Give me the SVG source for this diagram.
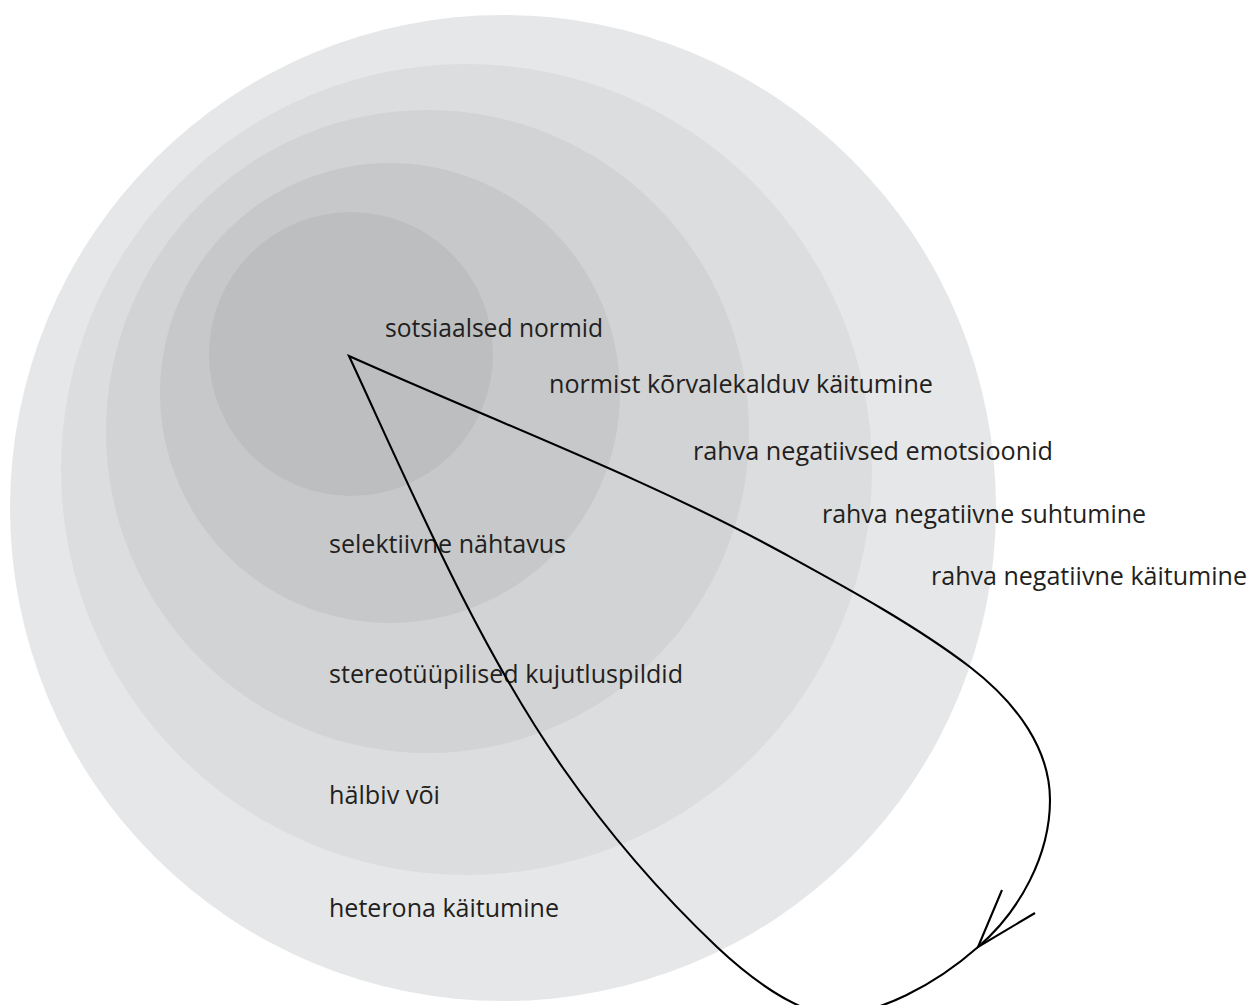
<svg xmlns="http://www.w3.org/2000/svg" width="1251" height="1005" viewBox="0 0 1251 1005">
<style>
.lbl{font-family:"Open Sans","Noto Sans","Liberation Sans",sans-serif;font-size:25px;fill:#231f20}
.conn{fill:none;stroke:#000;stroke-width:2.1;stroke-linejoin:miter}
</style>
<rect width="1251" height="1005" fill="#ffffff"/>
<g id="ring1"><circle cx="503" cy="508" r="493" fill="#e6e7e8"/></g>
<g id="ring2"><circle cx="466.5" cy="469.5" r="405.5" fill="#dcddde"/></g>
<g id="ring3"><circle cx="427.5" cy="431.5" r="321.5" fill="#d1d3d4"/></g>
<g id="ring4"><circle cx="390" cy="393" r="230" fill="#c7c8ca"/></g>
<g id="ring5"><circle cx="351" cy="354" r="142" fill="#bcbec0"/></g>
<g id="labels">
<g id="n1"><text class="lbl" x="385" y="337" textLength="218" lengthAdjust="spacingAndGlyphs">sotsiaalsed normid</text></g>
<g id="n2"><text class="lbl" x="549" y="393" textLength="384" lengthAdjust="spacingAndGlyphs">normist kõrvalekalduv käitumine</text></g>
<g id="n3"><text class="lbl" x="693" y="460" textLength="360" lengthAdjust="spacingAndGlyphs">rahva negatiivsed emotsioonid</text></g>
<g id="n4"><text class="lbl" x="822" y="523" textLength="324" lengthAdjust="spacingAndGlyphs">rahva negatiivne suhtumine</text></g>
<g id="n5"><text class="lbl" x="931" y="585" textLength="316" lengthAdjust="spacingAndGlyphs">rahva negatiivne käitumine</text></g>
<g id="n6"><text class="lbl" x="329" y="553" textLength="237" lengthAdjust="spacingAndGlyphs">selektiivne nähtavus</text></g>
<g id="n7"><text class="lbl" x="329" y="683" textLength="354" lengthAdjust="spacingAndGlyphs">stereotüüpilised kujutluspildid</text></g>
<g id="n8"><text class="lbl" x="329" y="804" textLength="111" lengthAdjust="spacingAndGlyphs">hälbiv või</text></g>
<g id="n9"><text class="lbl" x="329" y="917" textLength="230" lengthAdjust="spacingAndGlyphs">heterona käitumine</text></g>
</g>
<g id="connectors">
<path class="conn" d="M349,356 C494,421 650,480 783,553 C845,587 915,625 970,667 C1018,704 1050,750 1050,800 C1050,855 1020,911 978,947 C935,985 878,1015 832,1015 C795,1012 750,978 717,947 C659,892 609,834 563,768 C477,645 412,492 349,356 Z"/>
<path class="conn" d="M1002,890 L978,947 L1035,913"/>
</g>
</svg>
